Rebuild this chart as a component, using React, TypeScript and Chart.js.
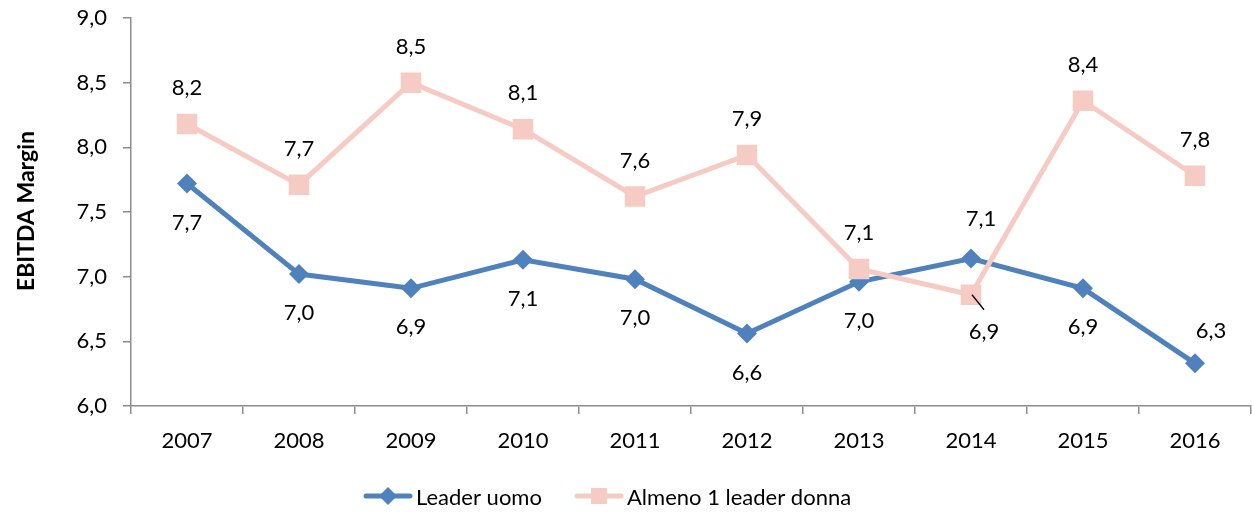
import React, { useEffect, useRef } from 'react';
import { Chart, registerables } from 'chart.js';

Chart.register(...registerables);

const years = ['2007', '2008', '2009', '2010', '2011', '2012', '2013', '2014', '2015', '2016'];
const leaderUomo = [7.72, 7.02, 6.91, 7.13, 6.98, 6.56, 6.96, 7.14, 6.91, 6.33];
const almenoDonna = [8.18, 7.71, 8.5, 8.14, 7.62, 7.94, 7.06, 6.86, 8.36, 7.78];
const seriesNames = ['Leader uomo', 'Almeno 1 leader donna'];
const yTitle = 'EBITDA Margin';

const BLUE = '#4F81BD';
const PINK = '#F6CBC3';
const AXIS = '#8C8C8C';
const FONT = 'Lato, "Open Sans", sans-serif';

// label offsets (style only): [dx, dy] relative to point
const labelOffsets: number[][][] = [
  years.map((_, i) => (i === 7 ? [10, -40] : i === 9 ? [16, -32] : [0, 39])),
  years.map((_, i) => (i === 7 ? [13, 37] : [0, -36])),
];
const leaderLines: { [k: string]: number[] } = { '1-7': [1, 0, 13, 15] };

const fmt = (v: number) => v.toFixed(1).replace('.', ',');

const customPlugin = {
  id: 'customDraw',
  afterDatasetsDraw(chart: any) {
    const ctx = chart.ctx;
    ctx.save();
    ctx.font = `22px ${FONT}`;
    ctx.fillStyle = '#000';
    ctx.textAlign = 'center';
    ctx.textBaseline = 'middle';
    chart.data.datasets.forEach((ds: any, di: number) => {
      const meta = chart.getDatasetMeta(di);
      meta.data.forEach((pt: any, i: number) => {
        const [dx, dy] = labelOffsets[di][i];
        ctx.fillText(fmt(ds.data[i]), pt.x + dx, pt.y + dy);
        const ll = leaderLines[`${di}-${i}`];
        if (ll) {
          ctx.beginPath();
          ctx.strokeStyle = '#000';
          ctx.lineWidth = 1.3;
          ctx.moveTo(pt.x + ll[0], pt.y + ll[1]);
          ctx.lineTo(pt.x + ll[2], pt.y + ll[3]);
          ctx.stroke();
        }
      });
    });
    ctx.restore();
  },
  afterDraw(chart: any) {
    const ctx = chart.ctx;
    ctx.save();
    // y axis title
    ctx.translate(34, 211);
    ctx.rotate(-Math.PI / 2);
    ctx.font = `bold 23px ${FONT}`;
    ctx.fillStyle = '#000';
    ctx.textAlign = 'center';
    ctx.textBaseline = 'alphabetic';
    ctx.fillText(yTitle, 0, 0);
    ctx.restore();

    // legend
    ctx.save();
    const ly = 496;
    const items = [
      { x: 364, color: BLUE, shape: 'diamond', text: seriesNames[0] },
      { x: 575, color: PINK, shape: 'square', text: seriesNames[1] },
    ];
    ctx.font = `22px ${FONT}`;
    ctx.textAlign = 'left';
    ctx.textBaseline = 'alphabetic';
    items.forEach((it) => {
      ctx.strokeStyle = it.color;
      ctx.lineWidth = 5;
      ctx.lineCap = 'round';
      ctx.beginPath();
      ctx.moveTo(it.x + 2, ly);
      ctx.lineTo(it.x + 46, ly);
      ctx.stroke();
      ctx.fillStyle = it.color;
      const cx = it.x + 24;
      ctx.beginPath();
      if (it.shape === 'diamond') {
        ctx.moveTo(cx, ly - 9);
        ctx.lineTo(cx + 9, ly);
        ctx.lineTo(cx, ly + 9);
        ctx.lineTo(cx - 9, ly);
        ctx.closePath();
      } else {
        ctx.rect(cx - 8, ly - 8, 16, 16);
      }
      ctx.fill();
      ctx.fillStyle = '#000';
      ctx.fillText(it.text, it.x + 52, 505);
    });
    ctx.restore();
  },
};

export default function App() {
  const ref = useRef<HTMLCanvasElement | null>(null);
  useEffect(() => {
    if (!ref.current) return;
    const chart = new Chart(ref.current, {
      type: 'line',
      data: {
        labels: years,
        datasets: [
          {
            label: seriesNames[0],
            data: leaderUomo,
            borderColor: BLUE,
            backgroundColor: BLUE,
            borderWidth: 5,
            pointStyle: 'rectRot',
            pointRadius: 10,
            pointBorderWidth: 0,
            pointBackgroundColor: BLUE,
            order: 1,
            tension: 0,
          },
          {
            label: seriesNames[1],
            data: almenoDonna,
            borderColor: PINK,
            backgroundColor: PINK,
            borderWidth: 5,
            pointStyle: 'rect',
            pointRadius: 14.5,
            pointBorderWidth: 0,
            pointBackgroundColor: PINK,
            order: 0,
            tension: 0,
          },
        ],
      },
      options: {
        responsive: false,
        animation: false,
        layout: { autoPadding: false, padding: { top: 18, right: 1, left: 0, bottom: 0 } },
        plugins: { legend: { display: false }, tooltip: { enabled: false } },
        scales: {
          x: {
            type: 'category',
            offset: true,
            grid: { display: true, drawOnChartArea: false, offset: true, tickLength: 8, color: AXIS, lineWidth: 1.5 },
            border: { display: true, color: AXIS, width: 1.5 },
            ticks: { color: '#000', font: { family: FONT, size: 22 }, padding: 14, maxRotation: 0 },
            afterFit: (s: any) => {
              s.height = 106;
              s.paddingLeft = 0;
              s.paddingRight = 0;
            },
          },
          y: {
            min: 6,
            max: 9,
            grid: { display: true, drawOnChartArea: false, tickLength: 8, color: AXIS, lineWidth: 1.5 },
            border: { display: true, color: AXIS, width: 1.5 },
            ticks: {
              stepSize: 0.5,
              color: '#000',
              font: { family: FONT, size: 22 },
              padding: 16,
              callback: (v: any) => fmt(Number(v)),
            },
            afterFit: (s: any) => {
              s.width = 131;
              s.paddingTop = 0;
              s.paddingBottom = 0;
            },
          },
        },
      },
      plugins: [customPlugin],
    });
    return () => chart.destroy();
  }, []);
  return (
    <div style={{ position: 'fixed', left: 0, top: 0, width: 1252, height: 512, background: '#fff' }}>
      <canvas ref={ref} width={1252} height={512} />
    </div>
  );
}
